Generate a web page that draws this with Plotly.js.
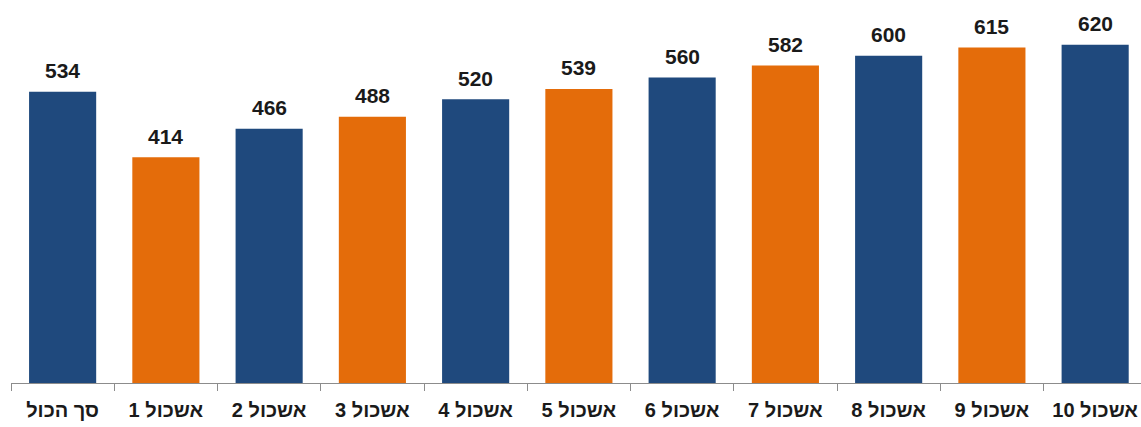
<!DOCTYPE html>
<html>
<head>
<meta charset="utf-8">
<script src="https://cdn.plot.ly/plotly-3.0.1.min.js"></script>
<style>html,body{margin:0;padding:0;background:#fff;}#chart{width:1141px;height:427px;}</style>
</head>
<body>
<div id="chart"></div>
<script>
const categories = ["סך הכול", "אשכול 1", "אשכול 2", "אשכול 3", "אשכול 4", "אשכול 5", "אשכול 6", "אשכול 7", "אשכול 8", "אשכול 9", "אשכול 10"];
const values = [534, 414, 466, 488, 520, 539, 560, 582, 600, 615, 620];
const BLUE = "#1F497D", ORANGE = "#E46C0A";
const colors = categories.map((c, i) => (i % 2 === 0 ? BLUE : ORANGE));

const trace = {
  type: "bar",
  x: categories,
  y: values,
  width: 0.65,
  marker: { color: colors },
  hoverinfo: "x+y"
};

const annotations = categories.map((c, i) => ({
  x: c,
  y: values[i],
  xref: "x",
  yref: "y",
  text: String(values[i]),
  showarrow: false,
  yanchor: "middle",
  yshift: 21,
  font: { family: "Liberation Sans, Arial, sans-serif", size: 21, color: "#1a1a1a", weight: "bold" }
}));

const layout = {
  width: 1141,
  height: 427,
  margin: { l: 10.5, r: 0, t: 0, b: 44, pad: 0 },
  paper_bgcolor: "#ffffff",
  plot_bgcolor: "#ffffff",
  showlegend: false,
  bargap: 0.35,
  xaxis: {
    type: "category",
    range: [-0.5, 10.444],
    showline: true,
    linecolor: "#8c8c8c",
    linewidth: 1,
    ticks: "outside",
    tickson: "boundaries",
    ticklen: 7,
    tickcolor: "#8c8c8c",
    tickwidth: 1,
    ticklabelstandoff: 9,
    showgrid: false,
    zeroline: false,
    tickfont: { family: "Liberation Sans, Arial, sans-serif", size: 20, color: "#1a1a1a", weight: "bold" }
  },
  yaxis: {
    range: [0, 702],
    visible: false,
    showgrid: false,
    zeroline: false
  },
  annotations: annotations
};

Plotly.newPlot("chart", [trace], layout, { staticPlot: true, displayModeBar: false });
</script>
</body>
</html>
